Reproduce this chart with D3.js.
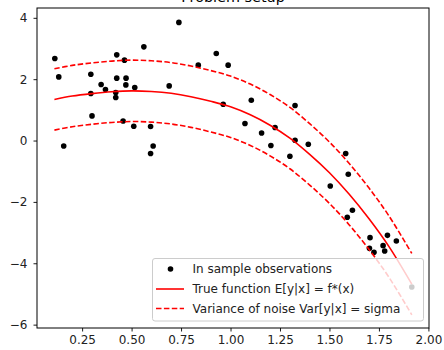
<!DOCTYPE html>
<html>
<head>
<meta charset="utf-8">
<script src="https://cdn.jsdelivr.net/npm/d3@7"></script>
<style>
  html, body { margin: 0; padding: 0; background: #fff; }
  svg { display: block; font-family: "DejaVu Sans", sans-serif; }
</style>
</head>
<body>
<svg id="chart" width="444" height="350"></svg>
<script>
// ---- Data ----
const title = "Problem setup";

const sampleX = [0.112, 0.132, 0.157, 0.294, 0.294, 0.300, 0.346, 0.368, 0.425, 0.464,
                 0.425, 0.472, 0.471, 0.420, 0.420, 0.457, 0.516, 0.562, 0.511, 0.596,
                 0.609, 0.596, 0.690, 0.739, 0.928, 0.837, 0.988, 0.963, 1.105, 1.326,
                 1.073, 1.157, 1.225, 1.204, 1.326, 1.300, 1.393, 1.582, 1.595, 1.504,
                 1.616, 1.590, 1.705, 1.793, 1.838, 1.771, 1.702, 1.725, 1.779, 1.916];
const sampleY = [2.675, 2.075, -0.176, 2.163, 1.533, 0.803, 1.827, 1.664, 2.793, 2.620,
                 2.033, 2.033, 1.814, 1.566, 1.403, 0.639, 1.729, 3.054, 0.467, 0.457,
                 -0.176, -0.424, 1.781, 3.850, 2.838, 2.457, 2.457, 1.184, 1.315, 1.142,
                 0.555, 0.248, 0.424, -0.163, 0.010, -0.512, -0.121, -0.424, -1.100, -1.481,
                 -2.274, -2.502, -3.165, -3.090, -3.276, -3.426, -3.514, -3.644, -3.602, -4.776];

const curveX     = [0.11, 0.2, 0.3, 0.4, 0.5, 0.6, 0.7, 0.8, 0.9, 1.0, 1.1, 1.2, 1.3, 1.4, 1.5, 1.6, 1.7, 1.8, 1.916];
const trueY      = [1.34, 1.45, 1.53, 1.59, 1.62, 1.60, 1.54, 1.43, 1.28, 1.10, 0.84, 0.50, 0.08, -0.45, -1.05, -1.75, -2.55, -3.45, -4.68];
const upperY     = [2.34, 2.45, 2.53, 2.59, 2.62, 2.60, 2.54, 2.43, 2.28, 2.10, 1.84, 1.50, 1.08, 0.55, -0.05, -0.75, -1.55, -2.45, -3.68];
const lowerY     = [0.34, 0.45, 0.53, 0.59, 0.62, 0.60, 0.54, 0.43, 0.28, 0.10, -0.16, -0.50, -0.92, -1.45, -2.05, -2.75, -3.55, -4.45, -5.68];

const xTicks = [0.25, 0.50, 0.75, 1.00, 1.25, 1.50, 1.75, 2.00];
const yTicks = [-6, -4, -2, 0, 2, 4];

const legendLabels = ["In sample observations", "True function E[y|x] = f*(x)", "Variance of noise Var[y|x] = sigma"];

// ---- Layout ----
const svg = d3.select("#chart");
const L = 37, R = 429, T = 8, B = 328;

const x = d3.scaleLinear().domain([0.022, 2.003]).range([L, R]);
const y = d3.scaleLinear().domain([-6.11, 4.32]).range([B, T]);

// title (mostly cut off at the top)
svg.append("text")
  .attr("x", (L + R) / 2).attr("y", 1.5)
  .attr("text-anchor", "middle")
  .attr("font-size", 14.4)
  .attr("fill", "#000")
  .text(title);

const plot = svg.append("g");

// scatter
plot.selectAll("circle.pt")
  .data(sampleX.map((v, i) => [v, sampleY[i]]))
  .enter().append("circle")
  .attr("class", "pt")
  .attr("cx", d => x(d[0]))
  .attr("cy", d => y(d[1]))
  .attr("r", 2.8)
  .attr("fill", "#000");

const line = d3.line().curve(d3.curveCatmullRom).x(d => x(d[0])).y(d => y(d[1]));
const mk = arr => curveX.map((v, i) => [v, arr[i]]);

plot.append("path").datum(mk(trueY))
  .attr("d", line).attr("fill", "none").attr("stroke", "#ff0000").attr("stroke-width", 1.6);
[upperY, lowerY].forEach(arr => {
  plot.append("path").datum(mk(arr))
    .attr("d", line).attr("fill", "none").attr("stroke", "#ff0000").attr("stroke-width", 1.6)
    .attr("stroke-dasharray", "5.5,2.4");
});

// axes
const xAxis = d3.axisBottom(x).tickValues(xTicks).tickFormat(d3.format(".2f")).tickSize(3.5).tickPadding(4);
const yAxis = d3.axisLeft(y).tickValues(yTicks).tickFormat(d => d < 0 ? "\u2212" + Math.abs(d) : String(d)).tickSize(3.5).tickPadding(6);

const gx = svg.append("g").attr("transform", `translate(0,${B})`).call(xAxis);
const gy = svg.append("g").attr("transform", `translate(${L},0)`).call(yAxis);
[gx, gy].forEach(g => {
  g.select(".domain").remove();
  g.selectAll("text").attr("font-size", 12).attr("fill", "#222").attr("font-family", "DejaVu Sans, sans-serif");
  g.selectAll("line").attr("stroke", "#000").attr("stroke-width", 0.9);
});

// frame
svg.append("rect")
  .attr("x", L).attr("y", T).attr("width", R - L).attr("height", B - T)
  .attr("fill", "none").attr("stroke", "#000").attr("stroke-width", 1);

// legend
const lg = svg.append("g");
lg.append("rect")
  .attr("x", 152.5).attr("y", 258.5).attr("width", 271).attr("height", 62.5)
  .attr("rx", 2.5).attr("ry", 2.5)
  .attr("fill", "#fff").attr("fill-opacity", 0.8)
  .attr("stroke", "#cccccc").attr("stroke-width", 1);

const rowY = [269, 289, 308.5];
lg.append("circle").attr("cx", 170.5).attr("cy", rowY[0]).attr("r", 2.8).attr("fill", "#000");
lg.append("line").attr("x1", 156).attr("x2", 184).attr("y1", rowY[1]).attr("y2", rowY[1])
  .attr("stroke", "#ff0000").attr("stroke-width", 1.6);
lg.append("line").attr("x1", 156).attr("x2", 184).attr("y1", rowY[2]).attr("y2", rowY[2])
  .attr("stroke", "#ff0000").attr("stroke-width", 1.6).attr("stroke-dasharray", "5.5,2.4");

lg.selectAll("text.lab").data(legendLabels).enter().append("text")
  .attr("class", "lab")
  .attr("x", 192.5)
  .attr("y", (d, i) => rowY[i])
  .attr("dy", "0.36em")
  .attr("font-size", 12)
  .attr("fill", "#222")
  .text(d => d);
</script>
</body>
</html>
